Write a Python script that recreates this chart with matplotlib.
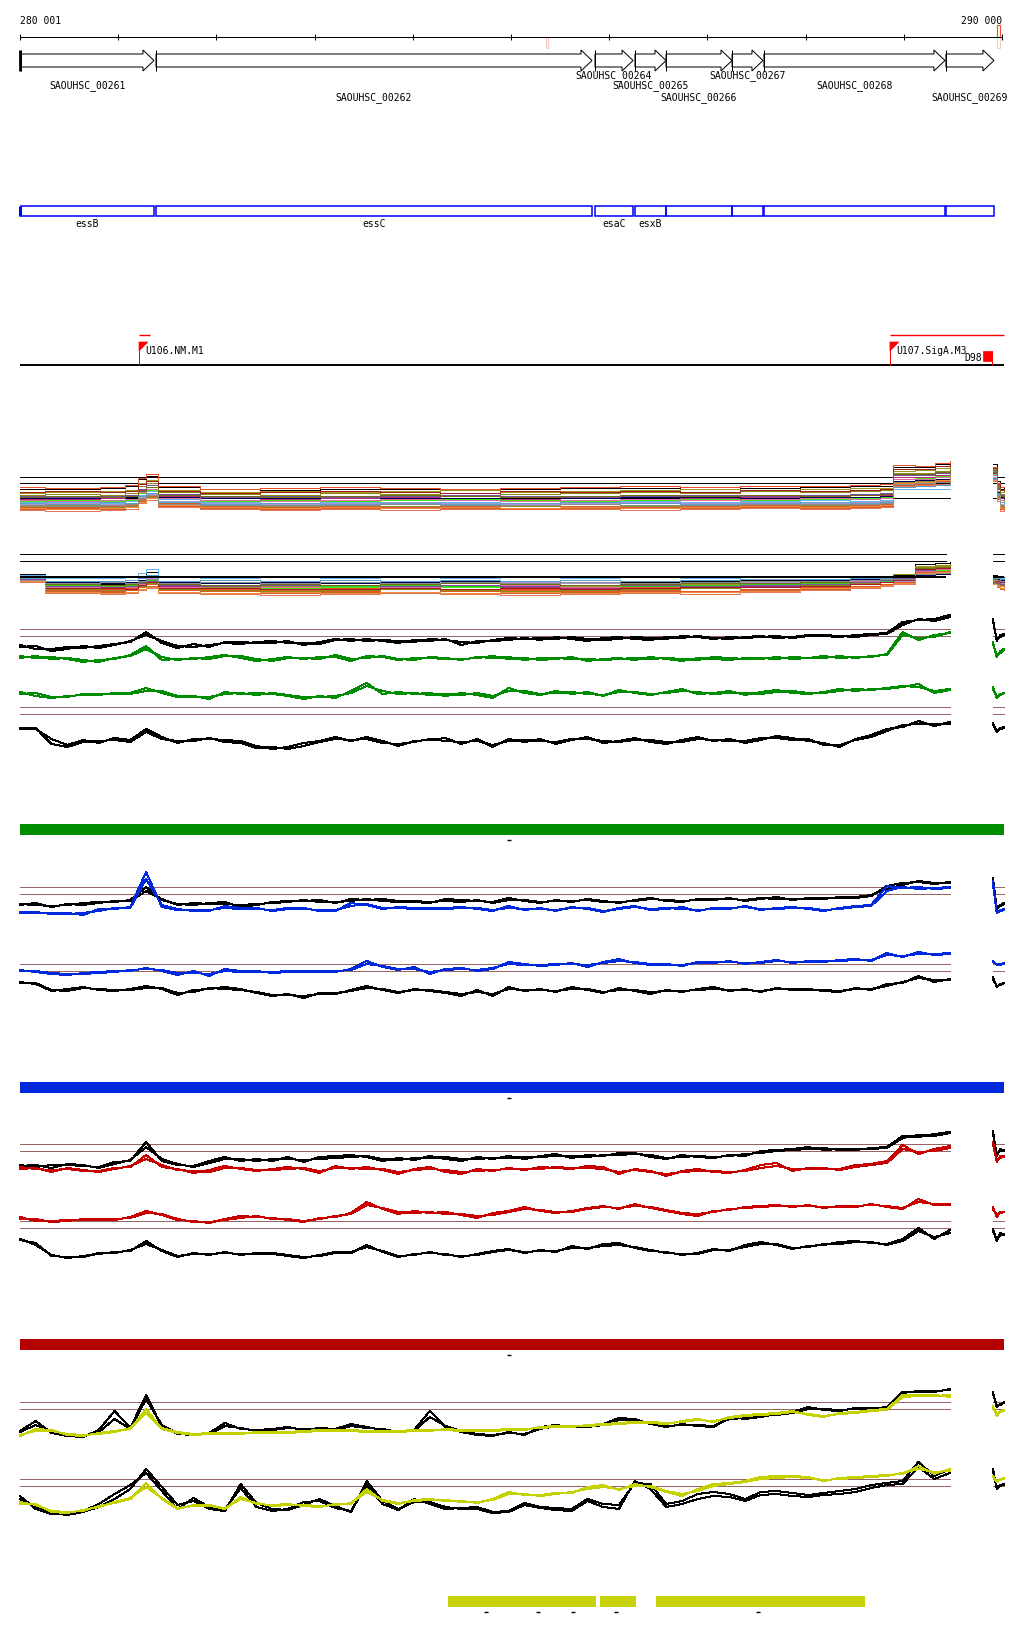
import numpy as np
import matplotlib
matplotlib.use("Agg")
import matplotlib.pyplot as plt
from matplotlib.patches import Polygon, Rectangle

# ---------------- data ----------------
RULER_START, RULER_END = 280001, 290000
RULER_TICKS = [280001, 281000, 282000, 283000, 284000, 285000, 286000, 287000, 288000, 289000, 290000]

GENE_NAMES = ["SAOUHSC_00261", "SAOUHSC_00262", "SAOUHSC_00264", "SAOUHSC_00265",
              "SAOUHSC_00266", "SAOUHSC_00267", "SAOUHSC_00268", "SAOUHSC_00269"]
GENE_START = [280011, 281386, 285856, 286263, 286579, 287251, 287576, 289429]
GENE_END = [281365, 285825, 286243, 286579, 287251, 287566, 289419, 289918]
GENE_ROW = [0, 1, -1, 0, 1, -1, 0, 1]
GENE_SYMBOL = ["essB", "essC", "esaC", "esxB", "", "", "", ""]

TSS_NAMES = ["U106.NM.M1", "U107.SigA.M3"]
TSS_POS = [281213, 288859]
TSS_SPAN_END = [281325, 290020]
D98_POS = 289898

YELLOW_START = [284359, 285907, 286477]
YELLOW_END = [285866, 286273, 288605]
YELLOW_MARKS = [284746, 285275, 285632, 286070, 287515]
BAR_MARK = 284980

# profile sample positions (main window + small right window)
POS = np.linspace(280001, 289470, 60)
FRAG_POS = [289908, 289946, 289983, 290020]

# panel C (green)
C_blk1 = [114,110,110,112,111,113,115,117,127,116,111,115,112,117,117,116,116,118,114,117,120,118,120,118,116,119,118,120,114,118,118,119,121,119,122,120,118,121,122,120,119,122,121,123,121,120,122,123,121,122,124,123,122,124,125,126,137,139,140,144]
C_blk1b = [112,113,108,110,113,111,114,118,124,118,113,112,114,116,115,117,118,116,116,115,119,120,118,119,118,117,120,119,117,116,119,121,120,121,120,122,120,119,120,122,121,120,123,122,120,122,121,122,123,121,123,124,123,122,124,125,134,140,138,142]
C_grn1 = [103,101,102,100,97,99,100,104,113,99,100,100,102,104,101,98,100,102,100,102,102,98,103,102,99,101,101,100,100,101,103,100,101,99,100,102,98,100,101,99,102,100,98,101,100,99,101,100,102,100,101,103,101,102,102,105,127,119,124,126]
C_grn1b = [101,103,100,101,99,97,101,103,110,102,99,101,100,103,103,100,98,101,101,100,104,100,101,103,100,99,102,101,99,102,101,102,99,101,101,100,100,99,100,101,100,101,100,99,102,101,100,101,100,102,101,101,103,101,103,104,124,121,122,127]
C_grn2 = [67,63,61,63,64,65,65,66,71,66,62,63,60,67,65,66,65,63,60,63,61,68,76,65,67,65,66,63,66,64,61,71,66,64,68,65,67,63,69,66,64,67,70,65,66,68,64,67,69,66,65,67,70,68,70,70,72,75,66,69]
C_grn2b = [65,66,62,62,65,64,66,65,68,68,63,62,62,65,66,64,66,64,62,62,63,66,73,68,65,66,64,65,64,66,63,68,68,65,66,67,65,64,67,67,65,66,68,67,65,66,66,65,67,68,66,66,68,70,69,71,73,72,68,70]
C_blk2 = [31,30,20,14,19,16,21,19,30,22,16,20,20,19,18,13,10,12,16,18,22,18,22,18,13,18,19,21,15,20,12,20,17,20,15,19,22,16,18,21,17,15,19,22,18,20,16,19,23,21,18,16,12,20,24,30,32,38,33,37]
C_blk2b = [30,31,15,12,17,18,19,17,27,20,18,18,21,17,16,11,12,10,13,17,20,19,20,16,15,17,20,18,17,18,14,18,19,18,17,20,20,18,17,19,19,17,17,20,19,18,18,21,21,19,20,14,14,19,22,28,34,35,35,35]
C_frag = {"blk1": ([140,118,124,125], [138,120,122,124]), "grn1": ([117,102,108,110], [115,104,106,109]),
          "grn2": ([72,61,65,66], [70,63,64,66]), "blk2": ([36,27,31,32], [34,29,30,31])}
C_thresh = [130, 123, 52, 45]

# panel D (blue)
D_blk1 = [105,104,103,104,106,107,107,109,122,109,105,104,106,107,102,104,107,108,108,109,106,110,109,110,108,107,106,110,109,108,107,111,108,106,109,107,110,108,106,109,111,108,107,110,109,111,108,110,112,109,111,110,112,111,113,123,126,127,125,127]
D_blk1b = [104,106,102,105,104,106,108,108,118,110,104,106,105,105,104,105,106,107,109,107,107,108,110,108,107,108,107,108,107,109,106,109,109,107,108,108,109,107,107,108,110,109,108,109,110,110,109,111,110,110,110,111,111,112,114,120,124,128,126,126]
D_blu1 = [97,96,96,96,94,100,100,102,137,102,99,99,98,103,101,100,99,101,100,99,98,106,104,100,102,101,100,101,102,100,98,103,99,101,98,102,100,97,101,103,99,100,102,98,101,100,103,99,101,102,100,98,101,103,104,123,121,122,120,121]
D_blu1b = [96,97,95,95,96,98,101,101,130,104,100,98,99,101,100,101,98,100,101,98,99,103,105,101,101,100,101,100,101,101,99,101,100,100,99,101,101,98,100,102,100,101,100,99,100,101,102,100,100,101,101,99,100,102,103,118,122,120,121,122]
D_blu2 = [39,37,35,34,36,37,38,38,41,38,34,38,33,40,38,37,37,38,37,38,37,40,48,42,39,42,35,40,41,38,40,47,45,43,44,46,42,47,50,46,44,45,43,47,46,48,45,47,49,46,48,47,49,50,48,56,52,57,54,55]
D_blu2b = [38,38,36,35,35,36,37,39,40,39,36,36,35,38,37,38,36,37,38,37,38,39,45,43,40,40,37,39,40,39,41,45,44,44,45,45,44,46,48,47,45,44,44,46,47,47,46,46,48,47,47,48,48,49,49,54,53,55,55,56]
D_blk2 = [27,25,18,20,22,19,18,20,23,20,14,19,20,22,20,16,13,15,11,16,15,19,23,19,16,20,18,16,13,19,13,22,18,20,17,22,19,16,21,18,15,19,17,20,22,18,20,17,21,19,20,18,17,21,19,25,26,33,27,30]
D_blk2b = [26,26,19,18,21,20,19,19,21,21,16,17,21,20,19,17,14,14,13,15,16,18,21,20,17,19,19,17,15,17,15,20,19,19,18,20,20,17,19,19,17,18,18,19,20,19,19,18,20,20,19,19,18,20,20,23,27,31,29,29]
D_frag = {"blk1": ([131,100,104,106], [128,102,103,105]), "blu1": ([128,96,98,99], [125,97,99,100]),
          "blu2": ([48,44,45,45], [47,45,44,46]), "blk2": ([32,22,25,26], [30,23,24,26])}
D_thresh = [122, 115, 45, 38]

# panel E (red)
E_blk1 = [104,102,104,104,103,102,107,108,127,108,104,103,108,112,108,110,108,112,107,112,113,114,112,108,111,109,113,110,108,112,110,113,110,113,115,111,114,113,116,116,112,110,114,112,111,114,113,118,119,120,122,119,120,119,121,122,133,132,135,137]
E_blk1b = [103,104,101,105,104,101,105,109,122,110,105,102,106,110,110,108,110,110,109,110,111,112,113,110,109,111,111,112,110,110,111,111,112,112,113,113,112,114,114,115,114,111,112,113,112,113,115,116,118,119,120,121,119,120,120,121,131,134,133,136]
E_red1 = [102,100,99,100,98,98,101,102,114,102,100,96,99,103,100,98,100,102,100,96,103,100,102,99,95,100,102,97,95,100,98,101,99,102,101,100,103,102,95,100,98,93,98,100,97,96,99,104,106,98,101,100,100,104,105,108,124,115,120,123]
E_red1b = [100,101,97,101,99,97,100,103,110,104,99,98,97,101,101,99,99,100,101,98,101,101,100,100,97,99,100,99,97,98,99,100,100,100,102,101,101,100,97,99,97,95,97,98,98,97,98,101,103,100,100,101,99,102,104,106,120,117,118,121]
E_red2 = [52,48,48,49,49,50,49,52,58,54,49,48,46,50,53,52,51,49,47,51,52,56,67,60,55,58,56,57,54,51,56,58,62,58,56,58,61,63,60,65,61,58,55,53,58,59,62,63,64,62,64,61,63,62,65,62,60,70,64,65]
E_red2b = [50,50,47,48,50,49,50,51,56,55,50,47,47,49,51,53,50,50,48,50,53,55,64,61,57,56,57,55,55,53,54,57,60,59,57,57,60,62,61,63,62,59,56,55,57,60,61,62,63,63,63,62,62,63,64,63,61,67,65,64]
E_blk2 = [30,24,14,11,13,15,17,18,28,18,12,16,14,17,14,16,15,13,11,14,17,16,24,17,12,15,16,15,12,15,18,20,16,19,17,23,20,25,26,21,18,17,14,16,20,18,24,27,24,20,23,24,27,28,26,25,30,41,30,39]
E_blk2b = [29,26,13,12,12,16,16,19,25,19,13,15,15,16,15,15,16,14,12,13,16,17,22,18,13,14,17,14,13,14,17,19,17,18,18,21,21,23,24,22,19,16,15,15,19,19,22,25,25,21,22,25,25,27,27,24,28,38,32,36]
E_frag = {"blk1": ([138,113,120,118], [136,115,118,119]), "red1": ([127,107,113,112], [125,109,111,113]),
          "red2": ([62,52,57,57], [60,54,56,57]), "blk2": ([40,28,36,34], [38,30,34,35])}
E_thresh = [125, 118, 48, 41]

# panel F (yellow)
F_blk1 = [98,108,96,93,92,99,118,101,134,102,95,94,96,106,100,99,100,102,99,101,100,105,102,99,98,99,118,102,97,94,93,97,94,102,104,102,103,105,111,110,105,102,105,103,102,112,110,112,115,117,122,119,118,121,120,122,137,137,138,139]
F_blk1b = [97,104,97,94,93,97,110,100,130,104,96,95,95,103,101,98,99,101,100,100,99,103,101,100,97,98,112,103,98,95,94,96,95,100,103,103,102,104,109,108,106,103,104,104,103,110,111,113,114,116,120,120,119,120,121,121,136,138,137,140]
F_yel1 = [93,100,99,94,93,96,98,100,120,100,96,94,95,96,95,97,96,97,98,99,98,99,98,97,98,99,98,100,99,98,99,100,99,102,103,102,104,105,106,107,106,105,108,110,107,112,114,115,116,118,114,112,116,117,119,120,134,134,133,134]
F_yel1b = [94,98,98,95,94,95,97,101,116,101,97,95,96,95,96,96,97,96,97,98,99,98,97,98,97,98,99,99,98,99,98,99,100,101,102,103,103,104,105,106,107,106,107,109,108,111,113,114,115,117,115,113,115,116,118,119,132,133,134,132]
F_blk2 = [33,20,15,15,18,25,35,44,56,38,20,31,22,20,41,22,18,20,27,28,21,18,44,25,19,30,25,20,21,22,17,18,26,22,21,20,30,25,24,46,45,25,28,35,37,35,30,37,38,36,34,36,38,40,44,46,48,67,53,60]
F_blk2b = [30,22,16,14,17,22,30,40,60,42,24,28,20,18,45,26,20,19,24,30,23,17,48,28,20,27,27,22,20,20,16,17,24,21,19,18,28,22,20,48,40,22,25,30,33,32,28,34,35,33,32,34,35,37,41,44,45,62,50,56]
F_yel2 = [27,24,18,17,18,23,26,30,46,30,20,24,24,20,32,25,24,25,23,22,25,25,40,28,25,29,30,28,28,26,30,37,34,34,36,36,42,44,39,45,42,37,33,40,45,46,48,52,53,53,52,48,51,52,53,54,55,63,55,60]
F_yel2b = [25,25,17,16,19,22,27,31,42,31,21,23,23,21,30,26,23,24,24,23,24,26,37,29,26,28,29,29,27,27,29,35,35,33,35,37,40,42,40,43,43,38,35,38,43,45,47,50,51,52,51,49,50,51,52,53,56,60,57,58]
F_frag = {"blk1": ([137,122,125,126], [135,124,124,127]), "yel1": ([123,113,118,118], [121,115,117,119]),
          "blk2": ([60,40,43,45], [58,42,44,44]), "yel2": ([53,47,50,50], [52,48,49,51])}
F_thresh = [127, 120, 50, 43]

# multi-sample bundles (step profiles at knots)
KNOTS = [280001, 280256, 280816, 281070, 281203, 281284, 281406, 281834, 282445, 283056, 283667, 284277,
         284888, 285499, 286110, 286721, 287332, 287943, 288452, 288757, 288890, 289114, 289318, 289470]
BUNDLE_A = [
    [30,30,31,33,40,43,32,27,29,30,30,29,30,31,31,30,31,32,33,33,52,52,55,57],
    [32,31,32,34,41,45,33,30,31,32,31,30,31,32,33,32,33,33,34,35,54,53,56,58],
    [26,27,28,29,36,39,29,27,28,27,28,29,27,28,29,30,29,30,31,31,48,49,51,53],
    [24,25,24,26,33,36,27,25,24,26,25,26,25,26,27,26,28,27,28,29,46,46,48,50],
    [20,20,21,22,29,32,23,21,20,21,22,21,20,21,22,21,22,23,22,24,42,42,44,45],
    [18,19,18,19,26,29,22,18,19,18,19,20,19,18,19,20,19,20,21,22,40,41,43,44],
    [21,21,22,22,27,30,22,21,21,22,21,21,22,21,22,22,21,22,22,23,38,39,40,41],
    [17,17,16,18,24,28,20,17,18,17,16,17,18,17,18,17,18,19,18,19,30,30,30,30],
    [15,16,15,16,22,25,18,16,15,16,17,16,15,16,17,16,17,16,17,18,36,37,38,39],
    [12,12,13,14,20,23,16,13,12,13,12,13,14,13,12,13,14,13,14,15,34,35,37,38],
    [9,8,9,10,16,19,12,10,9,10,9,10,11,10,9,10,11,10,11,12,33,34,35,37],
    [19,18,19,20,27,30,21,19,18,19,20,19,18,19,20,19,20,21,20,21,40,40,42,43],
    [10,11,10,12,18,21,13,11,10,11,12,11,10,11,12,11,12,11,12,13,35,36,38,40],
    [13,14,12,13,19,22,14,12,13,12,13,14,13,12,13,14,13,14,13,14,37,38,39,41],
    [23,22,23,24,30,34,25,22,23,22,23,24,23,22,23,24,23,24,25,26,44,44,46,48],
    [27,28,27,28,35,38,28,26,27,28,27,26,28,27,28,27,29,28,29,30,50,50,53,55],
    [16,15,17,16,23,26,17,15,16,15,16,15,16,17,16,15,16,17,16,17,32,33,34,35],
    [11,10,11,12,17,21,14,12,11,12,11,12,11,12,11,12,13,12,13,14,36,37,39,40],
    [22,23,22,23,28,32,24,23,22,23,24,23,22,23,24,23,24,23,24,25,45,45,47,49],
    [14,13,14,15,21,24,15,14,14,14,15,14,14,15,14,14,15,15,15,16,35,36,37,38],
]
BUNDLE_A_FRAG = [[55,38,30,31],[52,36,32,32],[50,34,27,28],[48,32,25,24],[46,30,21,20],[45,28,19,18],[44,27,22,21],
                 [40,25,17,17],[42,26,15,16],[40,22,12,13],[38,18,8,9],[44,28,19,19],[39,20,10,10],[41,23,13,14],
                 [49,33,24,23],[51,35,29,30],[41,26,17,16],[39,21,11,11],[47,31,23,22],[40,24,14,14]]
BUNDLE_A_REF = [42, 36, 21]
BUNDLE_B = [
    [25,16,15,16,22,27,16,16,15,16,17,16,17,16,17,18,19,20,22,23,24,35,36,37],
    [24,21,21,22,26,30,22,21,22,21,22,21,22,21,22,21,22,22,22,23,23,26,27,27],
    [22,12,10,11,14,18,12,10,9,11,10,9,10,11,12,11,13,14,16,18,19,30,32,33],
    [23,14,13,12,16,20,13,12,13,12,13,14,12,13,14,15,14,17,19,20,22,33,33,35],
    [21,11,12,13,15,18,13,11,12,13,12,13,12,11,13,14,13,15,17,18,19,28,29,30],
    [22,13,11,12,15,19,12,13,11,12,11,12,13,12,11,13,14,13,16,17,18,27,29,30],
    [20,15,16,15,18,21,15,16,15,16,15,16,17,16,15,16,17,18,17,19,18,24,25,25],
    [18,8,7,6,10,13,7,8,6,7,6,5,6,7,8,7,9,10,12,14,16,27,28,29],
    [17,6,5,6,9,11,6,5,4,5,6,5,4,5,6,5,7,9,11,13,15,25,26,28],
    [19,9,8,9,12,15,9,8,9,8,7,8,9,8,9,8,10,12,13,15,17,29,30,31],
    [21,17,16,17,19,22,17,16,17,16,17,18,16,17,18,17,18,19,20,21,21,24,25,26],
    [20,12,13,12,15,17,12,13,12,13,12,13,14,12,13,14,15,16,18,19,20,28,30,31],
    [21,10,9,10,13,16,10,9,8,9,10,9,8,9,10,11,12,14,16,21,25,32,34,34],
    [19,14,13,14,17,19,14,13,14,13,14,13,15,14,13,14,15,16,17,18,19,26,27,28],
    [20,13,14,13,16,18,14,13,14,14,13,14,13,14,14,13,14,15,17,19,21,29,31,31],
    [22,11,11,10,14,17,11,11,10,10,11,10,11,10,11,12,12,13,15,17,19,30,31,32],
    [21,18,18,19,21,24,18,19,18,19,18,19,18,19,18,19,20,20,21,21,22,25,26,26],
    [18,7,6,7,10,12,7,6,7,6,7,6,7,6,7,7,8,11,12,14,16,26,27,29],
    [22,15,14,15,17,20,15,14,15,14,15,16,15,14,15,16,16,17,19,20,22,31,32,33],
    [19,16,17,16,18,20,16,17,16,17,16,17,16,17,16,17,18,18,19,20,20,25,26,27],
]
BUNDLE_B_FRAG = [[24,23,22,22],[22,22,21,21],[20,19,18,18],[21,20,19,19],[19,18,17,17],[18,17,16,16],[17,16,16,15],
                 [15,12,10,9],[16,14,13,12],[18,17,15,15],[20,20,19,19],[17,16,15,15],[16,15,14,14],[19,18,17,17],
                 [17,16,15,15],[19,18,17,17],[21,21,20,20],[15,13,11,10],[20,19,18,18],[19,19,18,18]]
BUNDLE_B_REF = [45, 38, 22]

# ---------------- styles ----------------
A_COLORS = ['#000000', '#e8502a', '#a0961e', '#8c8c14', '#b4287a', '#46e61e', '#000050',
            '#64b4f0', '#aa96d2', '#c86432', '#e6785a', '#dc6ea0', '#dc5a28', '#968c3c',
            '#7850a0', '#a01e1e', '#5aa0c8', '#f08c3c', '#6e6e14', '#8c8c8c']
B_COLORS = ['#000000', '#64b4f0', '#e8502a', '#a0961e', '#b4287a', '#46e61e', '#aa96d2',
            '#c86432', '#e6785a', '#dc5a28', '#000050', '#dc6ea0', '#8c8c14', '#3cc81e',
            '#7850a0', '#a01e1e', '#5aa0c8', '#f08c3c', '#6e6e14', '#8c8c8c']
BROWN = '#9b6464'
GREEN = '#008c00'
BLUE = '#0028dc'
RED = '#c80000'
YEL = '#c3d200'
MONO = 'DejaVu Sans Mono'
LW = 0.72

W, H = 1024, 1640
BP_PER_PX = 9999 / 982
X0 = RULER_START - 20 * BP_PER_PX
X1 = X0 + W * BP_PER_PX
MAIN_END = POS[-1]

fig = plt.figure(figsize=(W / 100, H / 100), dpi=100)
fig.patch.set_facecolor('white')


def add_ax(top, bottom, ylim=None):
    ax = fig.add_axes([0, 1 - bottom / H, 1, (bottom - top) / H])
    ax.set_xlim(X0, X1)
    ax.set_ylim(*(ylim if ylim is not None else (bottom - top, 0)))
    ax.axis('off')
    return ax


# layout axes: x in bp, y in pixel rows (for decorative tracks)
lay = fig.add_axes([0, 0, 1, 1])
lay.set_xlim(X0, X1)
lay.set_ylim(H, 0)
lay.axis('off')

# ruler
lay.hlines(38, RULER_START, RULER_END, color='black', lw=LW)
lay.vlines(RULER_TICKS, 35, 41, color='black', lw=LW)
lay.text(RULER_START, 21, "280 001", fontsize=7, family=MONO, ha='left', va='center')
lay.text(RULER_END, 21, "290 000", fontsize=7, family=MONO, ha='right', va='center')
lay.add_patch(Rectangle((285357, 38), 20, 11, fill=False, ec='#f4c8c0', lw=0.8))
lay.add_patch(Rectangle((289950, 26), 25, 12, fill=False, ec='#f05030', lw=0.8))
lay.add_patch(Rectangle((289950, 38), 25, 11, fill=False, ec='#f8d0c8', lw=0.8))

# genes
HEAD = 112
for name, s, e, r in zip(GENE_NAMES, GENE_START, GENE_END, GENE_ROW):
    hs = e - HEAD
    poly = Polygon([(s, 55), (hs, 55), (hs, 51), (e, 61.5), (hs, 72), (hs, 68), (s, 68)],
                   closed=True, fc='white', ec='black', lw=LW)
    lay.add_patch(poly)
    lay.vlines(s, 51, 72, color='black', lw=LW)
    lay.text((s + e) / 2, {-1: 76, 0: 86, 1: 98}[r], name, fontsize=7, family=MONO,
             ha='center', va='center')
lay.vlines(RULER_START, 51, 72, color='black', lw=2.0)

# blue feature boxes
for s, e, sym in zip(GENE_START, GENE_END, GENE_SYMBOL):
    lay.add_patch(Rectangle((s, 207), e - s, 10, fill=False, ec='#0000ff', lw=1.1))
    if sym:
        lay.text((s + e) / 2, 224, sym, fontsize=7, family=MONO, ha='center', va='center')
lay.vlines(RULER_START, 207, 217, color='#0000ff', lw=2.2)

# TSS track
lay.hlines(366, RULER_START, FRAG_POS[-1], color='black', lw=1.4)
for name, p, se in zip(TSS_NAMES, TSS_POS, TSS_SPAN_END):
    lay.vlines(p, 343, 366, color='red', lw=LW)
    lay.add_patch(Polygon([(p, 343), (p + 90, 343), (p, 352)], closed=True, fc='red', ec='red', lw=0.5))
    lay.hlines(336, p, se, color='red', lw=1)
    lay.text(p + 60, 351, name, fontsize=7, family=MONO, ha='left', va='center')
lay.add_patch(Rectangle((D98_POS - 95, 352), 100, 10, fc='red', ec='red', lw=0.5))
lay.vlines(D98_POS + 5, 352, 366, color='red', lw=LW)
lay.text(D98_POS - 100, 358, "D98", fontsize=7, family=MONO, ha='right', va='center')

# colored separator bars
for col, y in ((GREEN, 825), (BLUE, 1083), ('#b40000', 1340)):
    lay.add_patch(Rectangle((RULER_START, y), FRAG_POS[-1] - RULER_START, 11, fc=col, ec='none'))
    lay.hlines(y + 16, BAR_MARK - 20, BAR_MARK + 20, color='black', lw=1)

# yellow region bars
for s, e in zip(YELLOW_START, YELLOW_END):
    lay.add_patch(Rectangle((s, 1597), e - s, 11, fc='#c8d20a', ec='none'))
lay.hlines([1613] * len(YELLOW_MARKS), [m - 20 for m in YELLOW_MARKS], [m + 20 for m in YELLOW_MARKS],
           color='black', lw=1)


# ---------------- profiles ----------------
def refs(ax, levels, end=MAIN_END, color=BROWN, lw=LW):
    for lv in levels:
        ax.hlines(lv, RULER_START, end, color=color, lw=lw, antialiased=False)
        ax.hlines(lv, FRAG_POS[0], FRAG_POS[-1], color=color, lw=lw, antialiased=False)


def pair(ax, a, b, frag, color):
    for v, f in ((a, frag[0]), (b, frag[1])):
        ax.plot(POS, v, color=color, lw=LW, antialiased=False)
        ax.plot(FRAG_POS, f, color=color, lw=LW, antialiased=False)


def bundle(ax, lines, frags, colors):
    for v, f, c in zip(lines, frags, colors):
        ax.plot(KNOTS, v, color=c, lw=LW, drawstyle='steps-post', antialiased=False)
        ax.plot(FRAG_POS, f, color=c, lw=LW, drawstyle='steps-post', antialiased=False)


axA = add_ax(455, 520, (0, 65))
refs(axA, BUNDLE_A_REF, color='black')
bundle(axA, BUNDLE_A, BUNDLE_A_FRAG, A_COLORS)

axB = add_ax(540, 600, (0, 60))
bundle(axB, BUNDLE_B, BUNDLE_B_FRAG, B_COLORS)
refs(axB, BUNDLE_B_REF[:2], end=289430, color='black')
refs(axB, BUNDLE_B_REF[2:], end=289430, color='black', lw=1.44)

axC = add_ax(610, 760, (0, 150))
refs(axC, C_thresh)
pair(axC, C_blk1, C_blk1b, C_frag["blk1"], 'black')
pair(axC, C_grn1, C_grn1b, C_frag["grn1"], GREEN)
pair(axC, C_grn2, C_grn2b, C_frag["grn2"], GREEN)
pair(axC, C_blk2, C_blk2b, C_frag["blk2"], 'black')

axD = add_ax(860, 1010, (0, 150))
refs(axD, D_thresh)
pair(axD, D_blk1, D_blk1b, D_frag["blk1"], 'black')
pair(axD, D_blu1, D_blu1b, D_frag["blu1"], BLUE)
pair(axD, D_blu2, D_blu2b, D_frag["blu2"], BLUE)
pair(axD, D_blk2, D_blk2b, D_frag["blk2"], 'black')

axE = add_ax(1120, 1270, (0, 150))
refs(axE, E_thresh)
pair(axE, E_blk1, E_blk1b, E_frag["blk1"], 'black')
pair(axE, E_red1, E_red1b, E_frag["red1"], RED)
pair(axE, E_red2, E_red2b, E_frag["red2"], RED)
pair(axE, E_blk2, E_blk2b, E_frag["blk2"], 'black')

axF = add_ax(1380, 1530, (0, 150))
refs(axF, F_thresh)
pair(axF, F_blk1, F_blk1b, F_frag["blk1"], 'black')
pair(axF, F_yel1, F_yel1b, F_frag["yel1"], YEL)
pair(axF, F_blk2, F_blk2b, F_frag["blk2"], 'black')
pair(axF, F_yel2, F_yel2b, F_frag["yel2"], YEL)

fig.savefig("out.png", dpi=100, facecolor='white')
